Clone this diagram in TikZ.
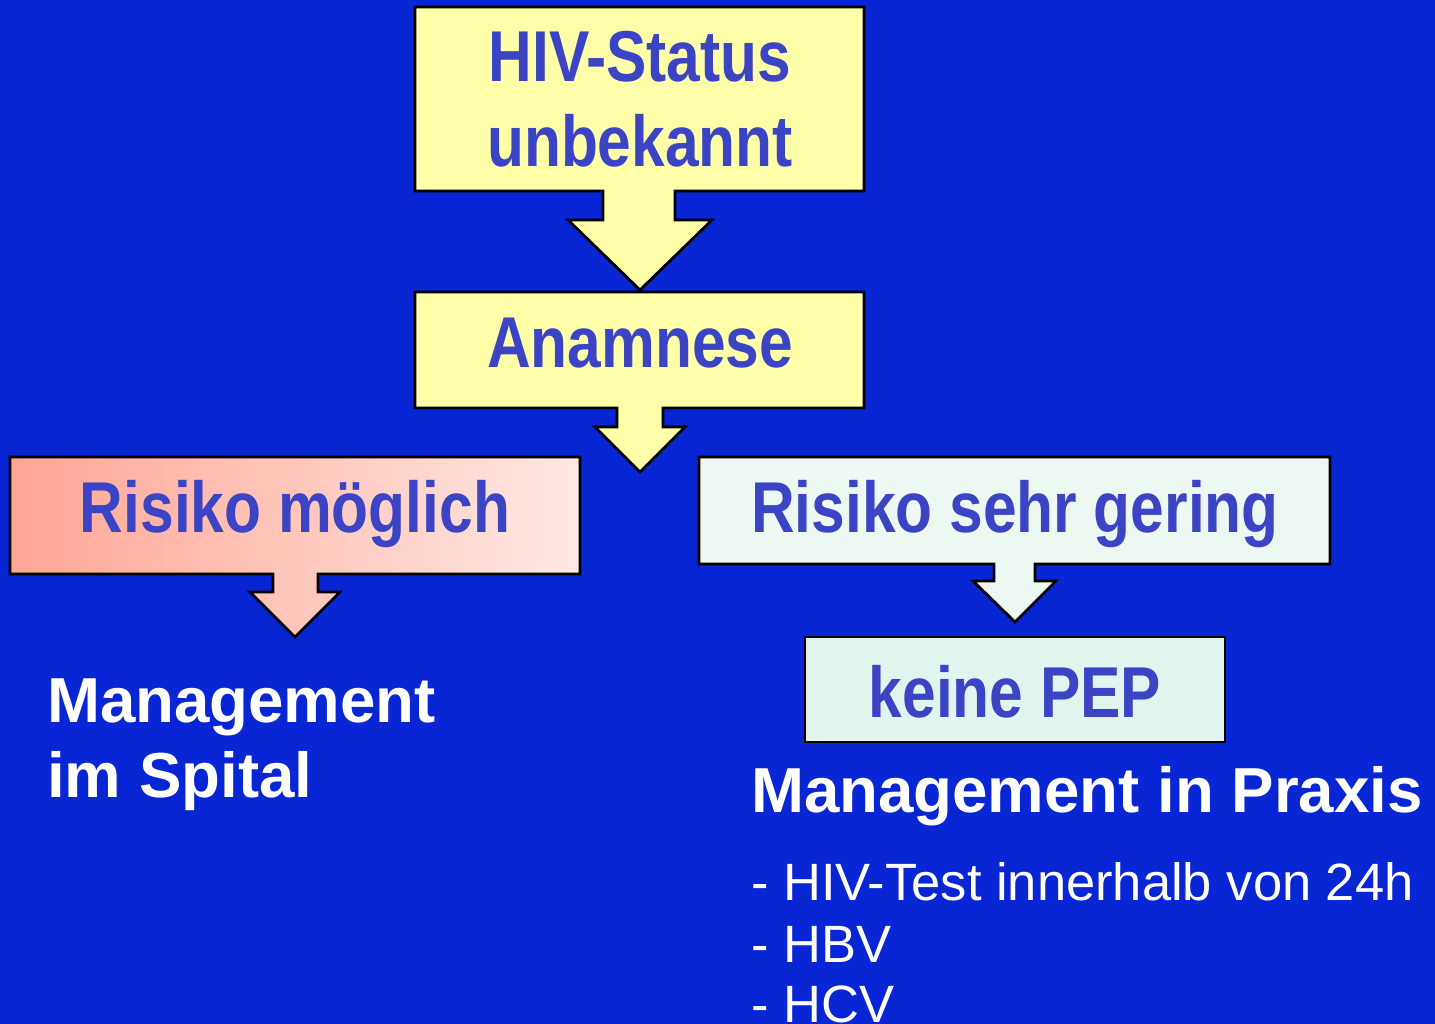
\documentclass[tikz,border=0pt]{standalone}
\usepackage{fontspec}
\setmainfont{Liberation Sans}
\newfontfamily\boxfont[FakeStretch=0.84]{Liberation Sans}
\definecolor{bg}{RGB}{8,38,212}
\definecolor{boxtext}{RGB}{58,68,196}
\definecolor{yel}{RGB}{255,255,170}
\definecolor{salmonL}{RGB}{255,166,148}
\definecolor{salmonR}{RGB}{255,232,228}
\definecolor{mint}{RGB}{238,248,242}
\definecolor{mintdark}{RGB}{226,244,238}
\begin{document}
\begin{tikzpicture}[x=1pt,y=-1pt,
  callout/.style={draw=black,line width=2.8pt,line join=miter},
  boxlabel/.style={text=boxtext,font=\boxfont\bfseries\fontsize{72}{85}\selectfont,anchor=base,inner sep=0pt},
  whitehead/.style={text=white,font=\bfseries\fontsize{63.6}{75}\selectfont,anchor=base west,inner sep=0pt},
  listitem/.style={text=white,font=\fontsize{52.5}{60}\selectfont,anchor=base west,inner sep=0pt}]
\useasboundingbox (0,0) rectangle (1435,1024);
\fill[bg] (0,0) rectangle (1435,1024);
% HIV-Status callout
\draw[callout,fill=yel] (415,7) -- (864,7) -- (864,191) -- (675,191) -- (675,220) -- (712,220) -- (640,290) -- (568,220) -- (603,220) -- (603,191) -- (415,191) -- cycle;
% Anamnese callout
\draw[callout,fill=yel] (415,292) -- (864,292) -- (864,408) -- (663,408) -- (663,427) -- (685,427) -- (640,472) -- (595,427) -- (617,427) -- (617,408) -- (415,408) -- cycle;
% Risiko moeglich callout
\draw[callout,left color=salmonL,right color=salmonR] (10,457) -- (580,457) -- (580,574) -- (318,574) -- (318,592) -- (340,592) -- (295,637) -- (250,592) -- (273,592) -- (273,574) -- (10,574) -- cycle;
% Risiko sehr gering callout
\draw[callout,fill=mint] (699,457) -- (1330,457) -- (1330,564) -- (1035,564) -- (1035,581) -- (1056,581) -- (1015,622) -- (973,581) -- (994,581) -- (994,564) -- (699,564) -- cycle;
% keine PEP box
\draw[callout,fill=mintdark] (805,637) rectangle (1225,742);
% labels
\node[boxlabel] (hiv1) at (640,82) {HIV-Status};
\node[boxlabel] (hiv2) at (640,167) {unbekannt};
\node[boxlabel] (anam) at (640,367) {Anamnese};
\node[boxlabel] (rmog) at (295,532) {Risiko möglich};
\node[boxlabel] (rger) at (1015,532) {Risiko sehr gering};
\node[boxlabel] (pep) at (1015,717) {keine PEP};
\node[whitehead] (man1) at (47,722) {Management};
\node[whitehead] (man2) at (47,797) {im Spital};
\node[whitehead] (prax) at (751,812) {Management in Praxis};
\node[listitem] (l1) at (751,900) {- HIV-Test innerhalb von 24h};
\node[listitem] (l2) at (751,962) {- HBV};
\node[listitem] (l3) at (751,1022) {- HCV};
\end{tikzpicture}
\end{document}
